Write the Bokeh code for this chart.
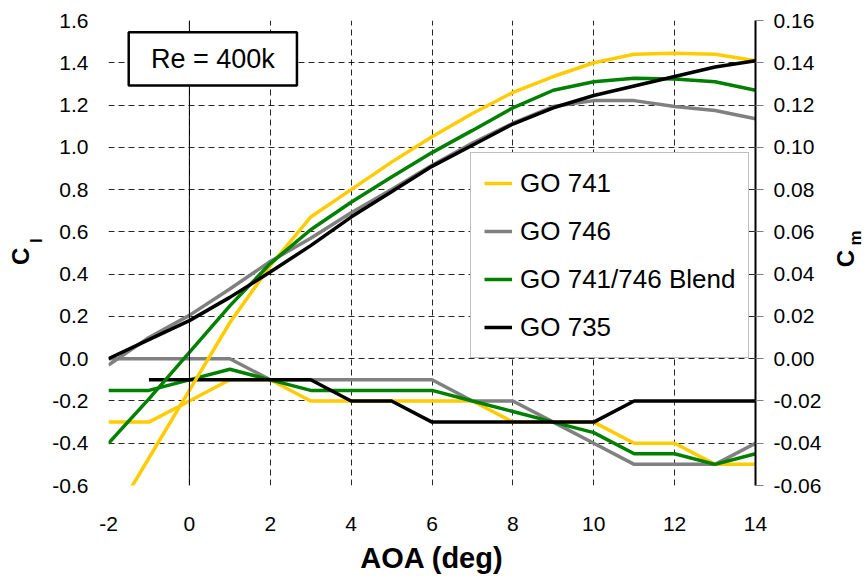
import math
from bokeh.plotting import figure
from bokeh.models import (Range1d, LinearAxis, FixedTicker, NumeralTickFormatter,
                          Legend, LegendItem, Span, BoxAnnotation, Label)
from bokeh.embed import file_html
from bokeh.resources import INLINE

# ---------------- data ----------------
aoa = [-2, -1, 0, 1, 2, 3, 4, 5, 6, 7, 8, 9, 10, 11, 12, 13, 14]
aoa_735_cm = [-1, 0, 1, 2, 3, 4, 5, 6, 7, 8, 9, 10, 11, 12, 13, 14]

cl_741 = [-0.79, -0.47, -0.15, 0.17, 0.44, 0.67, 0.80, 0.93, 1.05, 1.16, 1.26, 1.335, 1.40, 1.44, 1.445, 1.44, 1.41]
cl_746 = [-0.03, 0.10, 0.205, 0.33, 0.46, 0.57, 0.69, 0.80, 0.915, 1.02, 1.114, 1.193, 1.221, 1.221, 1.193, 1.174, 1.135]
cl_blend = [-0.40, -0.19, 0.03, 0.25, 0.45, 0.61, 0.74, 0.86, 0.975, 1.08, 1.187, 1.27, 1.31, 1.327, 1.323, 1.31, 1.27]
cl_735 = [0.0, 0.09, 0.18, 0.29, 0.41, 0.535, 0.67, 0.79, 0.91, 1.01, 1.11, 1.187, 1.245, 1.29, 1.335, 1.38, 1.41]

cm_741 = [-0.03, -0.03, -0.02, -0.01, -0.01, -0.02, -0.02, -0.02, -0.02, -0.02, -0.03, -0.03, -0.03, -0.04, -0.04, -0.05, -0.05]
cm_746 = [0.00, 0.00, 0.00, 0.00, -0.01, -0.01, -0.01, -0.01, -0.01, -0.02, -0.02, -0.03, -0.04, -0.05, -0.05, -0.05, -0.04]
cm_blend = [-0.015, -0.015, -0.01, -0.005, -0.01, -0.015, -0.015, -0.015, -0.015, -0.02, -0.025, -0.03, -0.035, -0.045, -0.045, -0.05, -0.045]
cm_735 = [-0.01, -0.01, -0.01, -0.01, -0.01, -0.02, -0.02, -0.03, -0.03, -0.03, -0.03, -0.03, -0.02, -0.02, -0.02, -0.02]

x_ticks = [-2, 0, 2, 4, 6, 8, 10, 12, 14]
cl_ticks = [-0.6, -0.4, -0.2, 0.0, 0.2, 0.4, 0.6, 0.8, 1.0, 1.2, 1.4, 1.6]
cm_ticks = [-0.06, -0.04, -0.02, 0.0, 0.02, 0.04, 0.06, 0.08, 0.10, 0.12, 0.14, 0.16]

names = ["GO 741", "GO 746", "GO 741/746 Blend", "GO 735"]
colors = ["#FFCC00", "#808080", "#008000", "#000000"]

FONT = "Liberation Sans"

p = figure(width=865, height=576, output_backend="svg", toolbar_location=None,
           x_range=Range1d(-2, 14), y_range=Range1d(-0.6, 1.6),
           min_border_left=108, min_border_right=110, min_border_top=20, min_border_bottom=91)
p.outline_line_color = None
p.background_fill_color = "white"
p.border_fill_color = "white"
p.extra_y_ranges = {"cm": Range1d(-0.06, 0.16)}

# grids
p.xgrid.ticker = FixedTicker(ticks=x_ticks)
p.ygrid.ticker = FixedTicker(ticks=cl_ticks)
for g in (p.xgrid, p.ygrid):
    g.grid_line_color = "black"
    g.grid_line_dash = "6 4"
    g.grid_line_width = 1
    g.grid_line_alpha = 0.85

# x axis
xa = p.xaxis[0]
xa.ticker = FixedTicker(ticks=x_ticks)
xa.formatter = NumeralTickFormatter(format="0")
xa.axis_line_color = None
xa.major_tick_out = 0
xa.major_tick_in = 0
xa.minor_tick_line_color = None
xa.major_label_standoff = 31
xa.major_label_text_font = FONT
xa.major_label_text_font_size = "21px"
xa.major_label_text_color = "black"
xa.axis_label = "AOA (deg)"
xa.axis_label_text_font = FONT
xa.axis_label_text_font_size = "29px"
xa.axis_label_text_font_style = "bold"
xa.axis_label_text_color = "black"
xa.axis_label_standoff = 8

# left axis
ya = p.yaxis[0]
ya.ticker = FixedTicker(ticks=cl_ticks)
ya.formatter = NumeralTickFormatter(format="0.0")
ya.axis_line_color = None
ya.major_tick_out = 0
ya.major_tick_in = 0
ya.minor_tick_line_color = None
ya.major_label_standoff = 20
ya.major_label_text_font = FONT
ya.major_label_text_font_size = "21px"
ya.major_label_text_color = "black"

# right axis
ra = LinearAxis(y_range_name="cm", ticker=FixedTicker(ticks=cm_ticks),
                formatter=NumeralTickFormatter(format="0.00"))
ra.axis_line_color = "black"
ra.axis_line_width = 2
ra.major_tick_out = 8
ra.major_tick_in = 0
ra.major_tick_line_color = "#808080"
ra.minor_tick_line_color = None
ra.major_label_standoff = 10
ra.major_label_text_font = FONT
ra.major_label_text_font_size = "21px"
ra.major_label_text_color = "black"
p.add_layout(ra, "right")

# x = 0 axis line
p.add_layout(Span(location=0, dimension="height", line_color="black", line_width=1))

# Cm lines (secondary axis)
cm_series = [(aoa, cm_741, colors[0]), (aoa, cm_746, colors[1]),
             (aoa, cm_blend, colors[2]), (aoa_735_cm, cm_735, colors[3])]
draw_order = [1, 0, 2, 3]
for i in draw_order:
    xs, ys, c = cm_series[i]
    p.line(xs, ys, line_color=c, line_width=3.5, y_range_name="cm")

# Cl lines
cl_series = [cl_741, cl_746, cl_blend, cl_735]
renderers = {}
for i in draw_order:
    renderers[i] = p.line(aoa, cl_series[i], line_color=colors[i], line_width=3.5)

legend = Legend(items=[LegendItem(label=names[i], renderers=[renderers[i]]) for i in range(4)],
                location=(362, 127), margin=0, padding=13, spacing=14,
                label_height=34, glyph_height=34, glyph_width=28, label_standoff=8,
                label_text_font=FONT, label_text_font_size="26px", label_text_color="black",
                border_line_color="#808080", border_line_width=1,
                background_fill_color="white", background_fill_alpha=1)
p.add_layout(legend, "center")

# Re box
p.add_layout(BoxAnnotation(left=-1.5, right=2.66, bottom=1.292, top=1.545,
                           fill_color="white", fill_alpha=1,
                           line_color="black", line_alpha=1, line_width=2.5))
p.add_layout(Label(x=0.58, y=1.4185, text="Re = 400k", text_align="center",
                   text_baseline="middle", text_font=FONT, text_font_size="27px",
                   text_color="black"))

# axis titles with subscripts (placed in side panels so they are not clipped)
def title_part(x, y, txt, size, side):
    p.add_layout(Label(x=x, y=y, text=txt, angle=math.pi / 2,
                       text_align="center", text_baseline="middle",
                       text_font=FONT, text_font_size=size, text_font_style="bold",
                       text_color="black"), side)

title_part(-4.18, 0.484, "C", "24px", "left")
title_part(-3.78, 0.559, "l", "17px", "left")
title_part(16.23, 0.474, "C", "24px", "right")
title_part(16.47, 0.571, "m", "17px", "above")

open("out.html", "w").write(file_html(p, INLINE))
